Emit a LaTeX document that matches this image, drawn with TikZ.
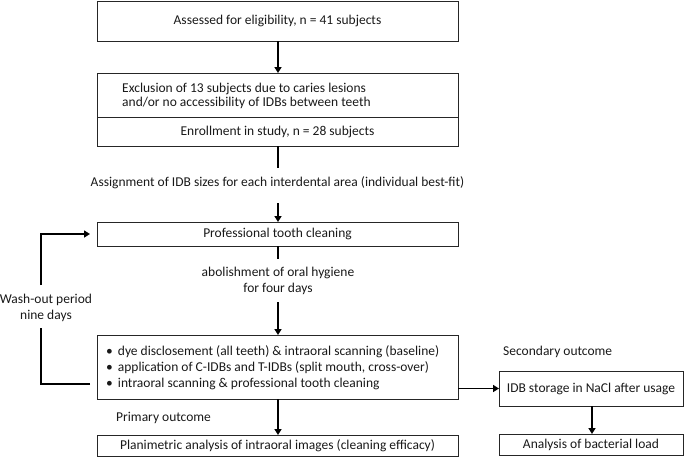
\documentclass[tikz,border=0pt]{standalone}
\usepackage{fontspec}
\setmainfont{Carlito}
\usetikzlibrary{arrows.meta}
\begin{document}
\begin{tikzpicture}[x=1pt,y=-1pt,
  box/.style={draw=black!85, line width=1pt, inner sep=0pt},
  lbl/.style={font=\fontsize{13.5}{16}\selectfont, inner sep=0pt, text=black!90},
  conn/.style={line width=1.6pt, draw=black},
  arr/.style={conn, -{Triangle[length=6pt,width=7pt]}}
]
\useasboundingbox (0,0) rectangle (685,461);
% boxes
\draw[box] (97,1) rectangle (458,41);
\node[lbl] (b1) at (277.5,21) {Assessed for eligibility, n = 41 subjects};
\coordinate (b1s) at (278,41);
\draw[box] (97,73) rectangle (458,146);
\draw[box] (97,117) -- (458,117);
\coordinate (b2n) at (278,73);
\coordinate (b2s) at (278,146);
\node[lbl, anchor=west, align=left, font=\fontsize{13.5}{14.5}\selectfont] (excl) at (122,96) {Exclusion of 13 subjects due to caries lesions\\and/or no accessibility of IDBs between teeth};
\node[lbl] (enr) at (277.5,131.5) {Enrollment in study, n = 28 subjects};
\node[lbl] (assign) at (277.5,183) {Assignment of IDB sizes for each interdental area (individual best-fit)};
\draw[box] (97,222) rectangle (458,246);
\node[lbl] (ptc) at (277.5,234) {Professional tooth cleaning};
\coordinate (b3n) at (278,222);
\coordinate (b3s) at (278,246);
\coordinate (b3w) at (97,234);
\node[lbl, align=center] (abol) at (278,281) {abolishment of oral hygiene\\for four days};
\draw[box] (97,335) rectangle (458,399);
\coordinate (b4n) at (278,335);
\coordinate (b4s) at (278,399);
\coordinate (b4w) at (97,384);
\coordinate (b4e) at (458,388.5);
\node[lbl, anchor=west] (i1) at (106,352) {\textbullet\hspace{5pt}dye disclosement (all teeth) \& intraoral scanning (baseline)};
\node[lbl, anchor=west] (i2) at (106,368) {\textbullet\hspace{5pt}application of C-IDBs and T-IDBs (split mouth, cross-over)};
\node[lbl, anchor=west] (i3) at (106,384) {\textbullet\hspace{5pt}intraoral scanning \& professional tooth cleaning};
\node[lbl, anchor=west] (prim) at (116,418) {Primary outcome};
\draw[box] (97,435) rectangle (458,456);
\node[lbl] (plan) at (277.5,445.5) {Planimetric analysis of intraoral images (cleaning efficacy)};
\coordinate (b5n) at (278,435);
% right side
\node[lbl, anchor=west] (sec) at (503,352) {Secondary outcome};
\draw[box] (499,371) rectangle (683,406);
\node[lbl] (idb) at (591,388.5) {IDB storage in NaCl after usage};
\coordinate (idbw) at (499,388.5);
\coordinate (idbs) at (592,406);
\draw[box] (499,434) rectangle (683,455);
\node[lbl] (bact) at (591,444.5) {Analysis of bacterial load};
\coordinate (bactn) at (592,434);
% wash-out
\node[lbl, align=center] (wash) at (46,307.5) {Wash-out period\\nine days};
% connectors
\draw[arr] (b1s) -- (b2n);
\draw[conn] (b2s) -- ++(0,22);
\draw[arr] (278,203) -- (b3n);
\draw[conn] (b3s) -- ++(0,13);
\draw[arr] (278,302) -- (b4n);
\draw[arr] (b4s) -- (b5n);
\draw[arr] (b4e) -- (idbw);
\draw[arr] (idbs) -- (bactn);
\draw[conn, shorten <=7pt] (b4w) -- (41,384) -- (41,328);
\draw[arr, shorten >=7pt] (41,285) -- (41,234) -- (b3w);
\end{tikzpicture}
\end{document}
